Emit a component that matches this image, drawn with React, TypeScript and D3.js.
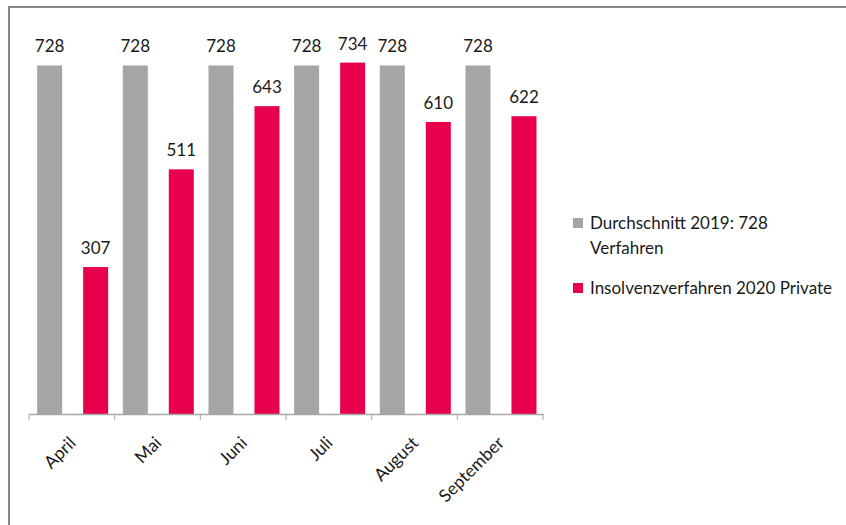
import React, { useEffect, useRef } from 'react';
import * as d3 from 'd3';

const months = ['April', 'Mai', 'Juni', 'Juli', 'August', 'September'];
const avg2019 = [728, 728, 728, 728, 728, 728];
const private2020 = [307, 511, 643, 734, 610, 622];
const seriesNames = ['Durchschnitt 2019: 728 Verfahren', 'Insolvenzverfahren 2020 Private'];
const colors = ['#A5A5A5', '#E8004C'];

const FONT = 'Lato, "Open Sans", sans-serif';

const App = () => {
    const ref = useRef<SVGSVGElement>(null);

    useEffect(() => {
        if (!ref.current) return;
        const svg = d3.select(ref.current);
        svg.selectAll('*').remove();

        // frame (only top and left edge visible)
        svg.append('line').attr('x1', 8).attr('x2', 846).attr('y1', 7).attr('y2', 7)
            .attr('stroke', '#878787').attr('stroke-width', 2);
        svg.append('line').attr('x1', 9).attr('x2', 9).attr('y1', 6).attr('y2', 525)
            .attr('stroke', '#878787').attr('stroke-width', 2);

        const left = 29, right = 543, bottom = 414, top = 31;

        const x = d3.scaleBand().domain(months).range([left, right]);
        const y = d3.scaleLinear().domain([0, 800]).range([bottom, top]);
        const bw = x.bandwidth();
        const barW = 25;
        const offsets = [bw * 0.095, bw * 0.095 + barW + 21];

        const data = months.map((m, i) => ({ m, vals: [avg2019[i], private2020[i]] }));

        const g = svg.append('g');
        data.forEach(d => {
            d.vals.forEach((v, s) => {
                const bx = x(d.m)! + offsets[s];
                g.append('rect')
                    .attr('x', bx)
                    .attr('y', y(v))
                    .attr('width', barW)
                    .attr('height', bottom - y(v))
                    .attr('fill', colors[s]);
                g.append('text')
                    .attr('x', bx + barW / 2)
                    .attr('y', y(v) - 13)
                    .attr('text-anchor', 'middle')
                    .style('font-family', FONT)
                    .style('font-size', '17px')
                    .style('fill', '#1a1a1a')
                    .text(v);
            });
        });

        // x axis
        const axis = svg.append('g')
            .attr('transform', `translate(0,${bottom})`)
            .call(d3.axisBottom(x).tickSize(0).tickFormat(() => ''));
        axis.select('.domain').attr('stroke', '#A6A6A6').attr('stroke-width', 1.3);
        const ticks = [...months.map(m => x(m)!), right];
        axis.selectAll('line.sep').data(ticks).enter().append('line')
            .attr('class', 'sep')
            .attr('x1', d => d).attr('x2', d => d)
            .attr('y1', 0).attr('y2', 6)
            .attr('stroke', '#A6A6A6');

        svg.selectAll('text.month').data(months).enter().append('text')
            .attr('class', 'month')
            .attr('text-anchor', 'end')
            .attr('transform', d => `translate(${x(d)! + bw / 2 + 5},${bottom + 30}) rotate(-45)`)
            .style('font-family', FONT)
            .style('font-size', '17.5px')
            .style('fill', '#1a1a1a')
            .text(d => d);

        // legend
        const lg = svg.append('g');
        lg.append('rect').attr('x', 573).attr('y', 218).attr('width', 10).attr('height', 10).attr('fill', colors[0]);
        lg.append('text').attr('x', 590).attr('y', 229)
            .style('font-family', FONT).style('font-size', '17px').style('fill', '#1a1a1a')
            .text('Durchschnitt 2019: 728');
        lg.append('text').attr('x', 590).attr('y', 254)
            .style('font-family', FONT).style('font-size', '17px').style('fill', '#1a1a1a')
            .text('Verfahren');
        lg.append('rect').attr('x', 573).attr('y', 283).attr('width', 10).attr('height', 10).attr('fill', colors[1]);
        lg.append('text').attr('x', 590).attr('y', 294)
            .style('font-family', FONT).style('font-size', '17px').style('fill', '#1a1a1a')
            .text(seriesNames[1]);
    }, []);

    return (
        <svg ref={ref} width={846} height={525}
            style={{ position: 'absolute', left: 0, top: 0, background: '#fff' }} />
    );
};

export default App;
